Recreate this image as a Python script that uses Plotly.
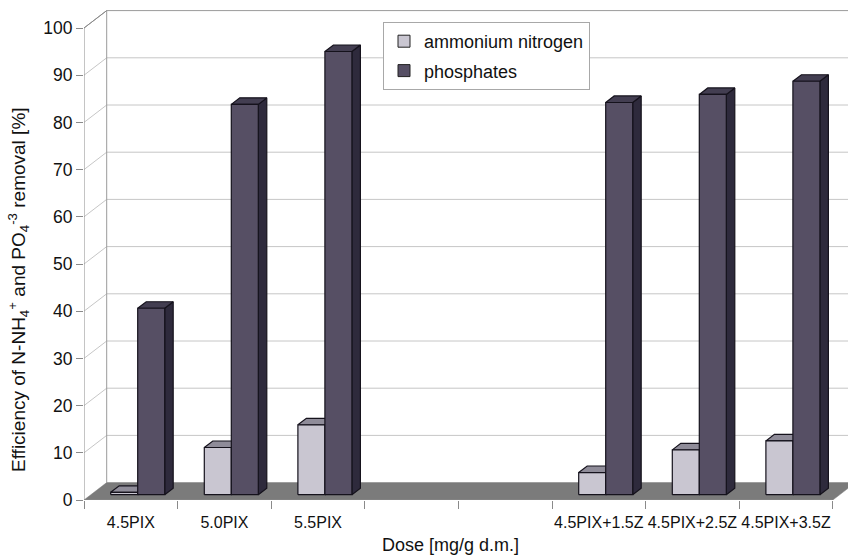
import plotly.graph_objects as go

# ---------------- data ----------------
categories = ["4.5PIX", "5.0PIX", "5.5PIX", "", "", "4.5PIX+1.5Z", "4.5PIX+2.5Z", "4.5PIX+3.5Z"]
ammonium_nitrogen = [0.5, 10.0, 14.8, None, None, 4.7, 9.5, 11.4]
phosphates = [39.5, 82.7, 93.9, None, None, 83.1, 84.8, 87.6]
y_ticks = [0, 10, 20, 30, 40, 50, 60, 70, 80, 90, 100]

# ---------------- pseudo-3D geometry (axis units) ----------------
PX_X = 93.6          # pixels per category
PX_Y = 4.72          # pixels per value unit
XMAX = 764 / PX_X
YMAX = 492 / PX_Y
DX = 22.7 / PX_X     # floor depth, x component
DY = 17.4 / PX_Y     # floor depth, y component
F0 = 0.304           # bar front plane (fraction of depth)
BD = 0.374           # bar depth (fraction of depth)
W = 27 / PX_X        # bar width
N = len(categories)

FONT = "Liberation Sans, Arial, Helvetica, sans-serif"
TXT = "#111111"
LIGHT = dict(front="#c9c6d1", top="#8f8c99", side="#a9a6b2")
DARK = dict(front="#564f64", top="#433e51", side="#2e2a3c")


def bar_faces(values, side):
    fr_x, fr_y, tp_x, tp_y, sd_x, sd_y = [], [], [], [], [], []
    ddx, ddy = BD * DX, BD * DY
    b = F0 * DY
    for i, v in enumerate(values):
        if v is None:
            continue
        c = i + 0.5 + F0 * DX
        x0 = c - W if side < 0 else c
        x1 = x0 + W
        t = b + v
        fr_x += [x0, x1, x1, x0, x0, None]
        fr_y += [b, b, t, t, b, None]
        tp_x += [x0, x1, x1 + ddx, x0 + ddx, x0, None]
        tp_y += [t, t, t + ddy, t + ddy, t, None]
        sd_x += [x1, x1 + ddx, x1 + ddx, x1, x1, None]
        sd_y += [b, b + ddy, t + ddy, t, b, None]
    return (fr_x, fr_y), (tp_x, tp_y), (sd_x, sd_y)


def poly(xy, color):
    return go.Scatter(x=xy[0], y=xy[1], mode="lines", fill="toself", fillcolor=color,
                      line=dict(color="#15121c", width=1.2), hoverinfo="skip",
                      showlegend=False)


fig = go.Figure()
for vals, side, col in [(ammonium_nitrogen, -1, LIGHT), (phosphates, 1, DARK)]:
    fr, tp, sd = bar_faces(vals, side)
    fig.add_trace(poly(sd, col["side"]))
    fig.add_trace(poly(tp, col["top"]))
    fig.add_trace(poly(fr, col["front"]))

# legend entries
for name, col in [("ammonium nitrogen", LIGHT), ("phosphates", DARK)]:
    fig.add_trace(go.Scatter(x=[None], y=[None], mode="markers", name=name,
                             legendgroup=name,
                             marker=dict(symbol="square", size=12, color=col["front"],
                                         line=dict(color="#222", width=1))))

# ---------------- walls, floor, gridlines ----------------
shapes = []
for v in y_ticks[1:]:
    col = "#9a9a9a" if v == 100 else "#c6c6c6"
    shapes.append(dict(type="path", layer="below", xref="x", yref="y",
                       path=f"M0,{v} L{DX},{v + DY} L{XMAX + 1},{v + DY}",
                       line=dict(color=col, width=1)))
shapes.append(dict(type="line", layer="below", xref="x", yref="y",
                   x0=DX, y0=DY, x1=DX, y1=100 + DY, line=dict(color="#9a9a9a", width=1)))
shapes.append(dict(type="path", layer="below", xref="x", yref="y",
                   path=f"M0,0 L{N},0 L{N + DX},{DY} L{DX},{DY} Z",
                   fillcolor="#7b7b7b", line=dict(color="#7b7b7b", width=0.5)))
shapes.append(dict(type="path", layer="below", xref="x", yref="y",
                   path=f"M0,0 L0,100 L{DX},{100 + DY}",
                   line=dict(color="#8a8a8a", width=1)))
shapes.append(dict(type="line", layer="below", xref="x", yref="y",
                   x0=0, y0=0, x1=N, y1=0, line=dict(color="#8a8a8a", width=1)))

fig.update_layout(
    width=848, height=556,
    margin=dict(l=84, r=0, t=8, b=56),
    paper_bgcolor="white", plot_bgcolor="white",
    font=dict(family=FONT, color=TXT),
    shapes=shapes,
    showlegend=True,
    legend=dict(x=(383 - 84) / 764, y=(500 - 22) / 492, xanchor="left", yanchor="top",
                bgcolor="white", bordercolor="#a8a8a8", borderwidth=1,
                font=dict(size=18, family=FONT, color=TXT),
                traceorder="grouped", tracegroupgap=3),
    xaxis=dict(range=[0, XMAX], showgrid=False, zeroline=False, showline=False,
               tickmode="array", tickvals=[i + 0.5 for i in range(N)], ticktext=categories,
               ticks="outside", ticklen=8, tickcolor="rgba(0,0,0,0)",
               tickfont=dict(size=16, family=FONT, color=TXT),
               minor=dict(tickmode="array", tickvals=list(range(N + 1)), ticks="outside",
                          ticklen=8, tickcolor="#8a8a8a", showgrid=False),
               fixedrange=True),
    yaxis=dict(range=[0, YMAX], showgrid=False, zeroline=False, showline=False,
               tickmode="array", tickvals=y_ticks, ticktext=[str(t) for t in y_ticks],
               ticks="outside", ticklen=7, tickcolor="#8a8a8a",
               tickfont=dict(size=17.5, family=FONT, color=TXT),
               fixedrange=True),
    annotations=[
        dict(text="Efficiency of N-NH<sub>4</sub><sup>+</sup> and PO<sub>4</sub><sup>-3</sup> removal [%]",
             xref="paper", yref="paper", x=(18 - 84) / 764, y=(500 - 290) / 492,
             xanchor="center", yanchor="middle", textangle=-90, showarrow=False,
             font=dict(size=19, family=FONT, color=TXT)),
        dict(text="Dose [mg/g d.m.]", xref="paper", yref="paper",
             x=(450 - 84) / 764, y=(500 - 545) / 492, xanchor="center", yanchor="middle",
             showarrow=False, font=dict(size=18, family=FONT, color=TXT)),
    ],
)

fig.write_html("out.html")
